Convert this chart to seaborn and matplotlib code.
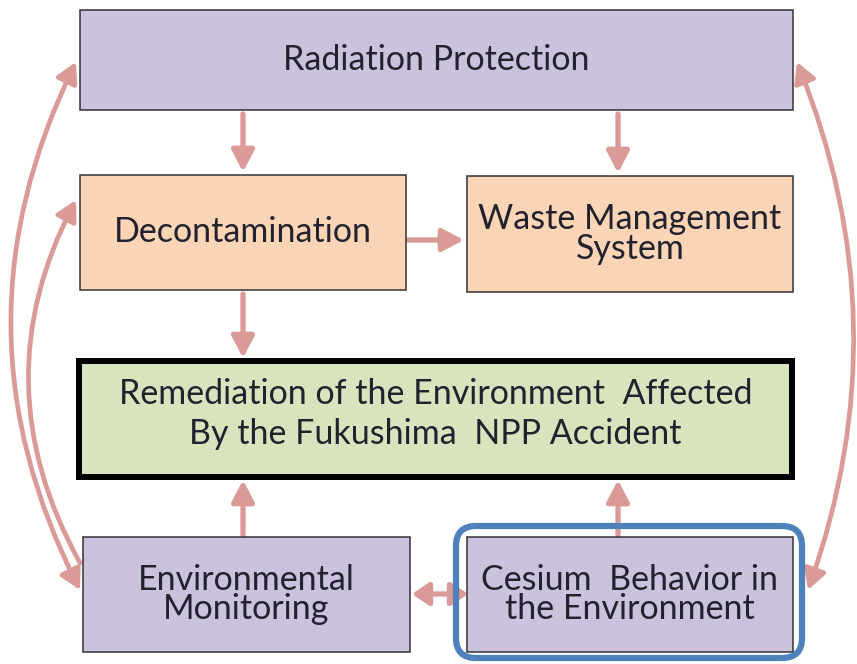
import matplotlib
matplotlib.use("Agg")
import matplotlib.pyplot as plt
import seaborn as sns
from matplotlib.patches import Rectangle, FancyBboxPatch, FancyArrowPatch

sns.set_theme(style="white")
plt.rcParams['font.family'] = ['Lato', 'DejaVu Sans']

# box labels
labels = ["Radiation Protection",
          "Decontamination",
          "Waste Management\nSystem",
          "Remediation of the Environment  Affected\nBy the Fukushima  NPP Accident",
          "Environmental\nMonitoring",
          "Cesium  Behavior in\nthe Environment"]
kinds = ["purple", "orange", "orange", "green", "purple", "purple"]

# links between boxes (from, to, both heads?)
links = [(0, 1, False), (0, 2, False), (1, 2, False), (1, 3, False),
         (4, 3, False), (5, 3, False), (5, 4, True)]
curves = [(4, 1, False), (4, 0, True), (5, 0, True)]

# layout in pixels: x0, y0, x1, y1
boxes = [(80, 10, 793, 110),
         (80, 175, 406, 290),
         (467, 176, 793, 292),
         (79, 361, 792, 477),
         (83, 537, 410, 652),
         (467, 537, 793, 652)]
fills = {"purple": "#cbc3de", "orange": "#fbd5b6", "green": "#d8e4bd"}
arrow_col = "#d99a98"

fig = plt.figure(figsize=(8.57, 6.64), dpi=100)
ax = fig.add_axes([0, 0, 1, 1])
ax.set_xlim(0, 857)
ax.set_ylim(664, 0)
ax.axis("off")

for i, (lab, kind) in enumerate(zip(labels, kinds)):
    x0, y0, x1, y1 = boxes[i]
    lw = 4.3 if kind == "green" else 1.1
    ec = "black" if kind == "green" else "#333333"
    ax.add_patch(Rectangle((x0, y0), x1 - x0, y1 - y0, fc=fills[kind], ec=ec, lw=lw, zorder=2))
    ls = 1.32 if kind == "green" else 0.92
    dy = -5 if kind == "green" else 0
    ax.text((x0 + x1) / 2, (y0 + y1) / 2 + dy, lab, ha="center", va="center",
            fontsize=24.5, color="#22222e", linespacing=ls, zorder=3)

# highlight around cesium box
ax.add_patch(FancyBboxPatch((458, 528), 342, 128, boxstyle="round,pad=2,rounding_size=20",
                            fc="none", ec="#4f81bd", lw=4.5, zorder=4))


def edge_pts(a, b):
    ax0, ay0, ax1, ay1 = boxes[a]
    bx0, by0, bx1, by1 = boxes[b]
    if ay1 < by0:  # a above b
        x = 243 if ax0 < 300 and bx0 < 300 else 618
        return (x, ay1 + 4), (x, by0 - 3)
    if ay0 > by1:  # a below b
        x = 243 if ax0 < 300 else 618
        return (x, ay0 - 2), (x, by1 + 3)
    y = 240 if ay0 < 300 else 594
    if ax1 < bx0:
        return (ax1 + 2, y), (bx0 - 3, y)
    return (ax0 + 1, y), (bx1 + 2, y)


for a, b, both in links:
    p, q = edge_pts(a, b)
    style = "<|-|>" if both else "-|>"
    hl = 0.5 if both else 0.65
    ax.add_patch(FancyArrowPatch(p, q, arrowstyle=style + f",head_length={hl},head_width=0.34",
                                 mutation_scale=20, color=arrow_col, lw=3.8,
                                 shrinkA=0, shrinkB=0, zorder=1))

curve_ends = {(4, 1): ((80, 563), (76, 200), -0.27),
              (4, 0): ((80, 590), (76, 62), -0.25),
              (5, 0): ((808, 590), (797, 62), 0.19)}
for a, b, both in curves:
    p, q, rad = curve_ends[(a, b)]
    style = "<|-|>" if both else "-|>"
    ax.add_patch(FancyArrowPatch(p, q, arrowstyle=style + ",head_length=0.6,head_width=0.33",
                                 connectionstyle=f"arc3,rad={rad}",
                                 mutation_scale=20, color=arrow_col, lw=3.4,
                                 shrinkA=0, shrinkB=0, zorder=1))

fig.savefig("out.png", dpi=100)
